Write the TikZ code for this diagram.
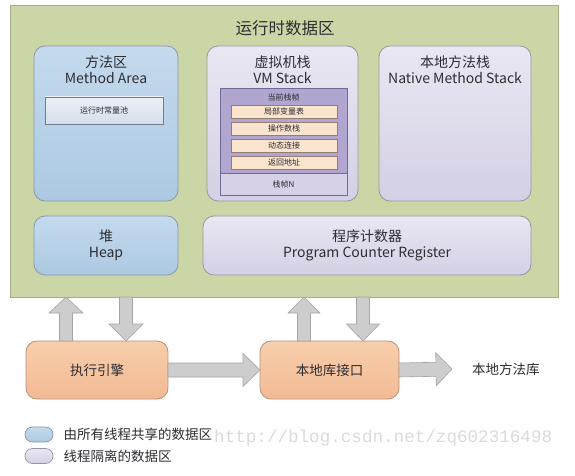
\documentclass[tikz,border=0pt]{standalone}
\usepackage{fontspec}
\setmainfont{Noto Sans CJK SC}
\newfontfamily\wmfam{Liberation Mono}
\usetikzlibrary{calc}
\definecolor{greenfill}{RGB}{203,214,166}
\definecolor{greenline}{RGB}{165,175,135}
\definecolor{bluetop}{RGB}{196,218,237}
\definecolor{bluebot}{RGB}{172,201,226}
\definecolor{blueline}{RGB}{140,152,165}
\definecolor{lavtop}{RGB}{234,231,243}
\definecolor{lavbot}{RGB}{212,208,229}
\definecolor{lavline}{RGB}{150,150,165}
\definecolor{framefill}{RGB}{176,166,207}
\definecolor{frameline}{RGB}{115,105,150}
\definecolor{nfill}{RGB}{214,209,230}
\definecolor{rowfill}{RGB}{250,228,206}
\definecolor{rowline}{RGB}{150,125,115}
\definecolor{pooltop}{RGB}{235,240,246}
\definecolor{poolbot}{RGB}{212,223,235}
\definecolor{poolline}{RGB}{115,125,135}
\definecolor{oratop}{RGB}{248,206,172}
\definecolor{orabot}{RGB}{242,186,148}
\definecolor{oraline}{RGB}{185,145,120}
\definecolor{arrfill}{RGB}{205,205,205}
\definecolor{arrline}{RGB}{165,165,165}
\definecolor{txt}{RGB}{45,45,50}
\tikzset{
  base/.style={anchor=north west, inner sep=0pt, outer sep=0pt},
  greenbox/.style={base, draw=greenline, fill=greenfill, line width=0.8pt},
  bluebox/.style={base, draw=blueline, top color=bluetop, bottom color=bluebot, rounded corners=11pt, line width=0.8pt},
  lavbox/.style={base, draw=lavline, top color=lavtop, bottom color=lavbot, rounded corners=11pt, line width=0.8pt},
  orabox/.style={base, draw=oraline, top color=oratop, bottom color=orabot, rounded corners=11pt, line width=0.8pt},
  poolbox/.style={base, draw=poolline, top color=pooltop, bottom color=poolbot, line width=0.6pt, text=txt, font=\fontsize{8}{9}\selectfont},
  framebox/.style={base, draw=frameline, fill=framefill, line width=0.7pt},
  nbox/.style={anchor=south west, inner sep=0pt, outer sep=0pt, draw=frameline, fill=nfill, line width=0.7pt, text=txt, font=\fontsize{8}{9}\selectfont},
  rowbox/.style={base, draw=rowline, fill=rowfill, line width=0.5pt, minimum width=106pt, minimum height=13pt, text=txt, font=\fontsize{8}{9}\selectfont},
  smalltext/.style={text=txt, font=\fontsize{8}{9}\selectfont, inner sep=0pt},
  boxtitle/.style={text=txt, align=center, inner sep=0pt, font=\fontsize{14}{15.5}\selectfont},
  bigtext/.style={text=txt, inner sep=0pt, font=\fontsize{13.5}{15}\selectfont},
  fatstyle/.style={draw=arrline, fill=arrfill, line width=0.6pt, line join=miter},
  legblue/.style={draw=blueline, top color=bluetop, bottom color=bluebot, minimum width=28pt, minimum height=15pt, rounded corners=7.5pt, inner sep=0pt, line width=0.7pt},
  leglav/.style={draw=lavline, top color=lavtop, bottom color=lavbot, minimum width=28pt, minimum height=15pt, rounded corners=7.5pt, inner sep=0pt, line width=0.7pt},
}
\newcommand\fatarrow[5]{%
  \path ($(#2)!#5!(#1)$) coordinate (fatH);
  \draw[fatstyle] ($(#1)!#3!90:(#2)$) -- ($(fatH)!#3!90:(#2)$) -- ($(fatH)!#4!90:(#2)$) -- (#2)
     -- ($(fatH)!#4!-90:(#2)$) -- ($(fatH)!#3!-90:(#2)$) -- ($(#1)!#3!-90:(#2)$) -- cycle;
}
\begin{document}
\begin{tikzpicture}[x=1pt, y=-1pt]
\useasboundingbox[fill=white] (0,0) rectangle (575,476);
% runtime data area
\node[greenbox, minimum width=548pt, minimum height=292pt] (rt) at (10,5) {};
\node[text=txt, inner sep=0pt, font=\fontsize{16.5}{18}\selectfont] (rtt) at (285,28) {运行时数据区};
% method area
\node[bluebox, minimum width=144pt, minimum height=155pt] (ma) at (34,46) {};
\node[boxtitle] (mat) at ($(ma.north)+(0,23.5)$) {方法区\\Method Area};
\node[poolbox, minimum width=118pt, minimum height=27pt] (pool) at (45,97) {运行时常量池};
% VM stack
\node[lavbox, minimum width=151pt, minimum height=155pt] (vm) at (207,46) {};
\node[boxtitle] (vmt) at ($(vm.north)+(0,23.5)$) {虚拟机栈\\VM Stack};
\node[framebox, minimum width=127pt, minimum height=107pt] (fr) at (220,88) {};
\node[nbox, minimum width=127pt, minimum height=22pt] (fn) at (fr.south west) {栈帧N};
\node[smalltext] (frt) at ($(fr.north)+(0,9)$) {当前栈帧};
\node[rowbox] (r1) at (231,105) {局部变量表};
\node[rowbox] (r2) at (231,122) {操作数栈};
\node[rowbox] (r3) at (231,139) {动态连接};
\node[rowbox] (r4) at (231,156) {返回地址};
% native method stack
\node[lavbox, minimum width=152pt, minimum height=155pt] (nm) at (379,46) {};
\node[boxtitle] (nmt) at ($(nm.north)+(0,23.5)$) {本地方法栈\\Native Method Stack};
% heap
\node[bluebox, minimum width=144pt, minimum height=59pt] (hp) at (34,216) {};
\node[boxtitle] (hpt) at (hp.center) {堆\\Heap};
% program counter
\node[lavbox, minimum width=328pt, minimum height=59pt] (pc) at (203,216) {};
\node[boxtitle] (pct) at (pc.center) {程序计数器\\Program Counter Register};
% execution engine and native interface
\node[orabox, minimum width=142pt, minimum height=58pt] (ee) at (26,341) {};
\node[bigtext] (eet) at (ee.center) {执行引擎};
\node[orabox, minimum width=139pt, minimum height=58pt] (ni) at (260,341) {};
\node[bigtext] (nit) at (ni.center) {本地库接口};
\node[bigtext, anchor=west] (lib) at (472,369) {本地方法库};
% arrows
\coordinate (u1s) at ($(ee.north west)+(40,0)$);
\coordinate (u1e) at (u1s |- rt.south);
\coordinate (d1s) at ($(ee.north west)+(100,0)$);
\coordinate (d1t) at (d1s |- rt.south);
\coordinate (u2s) at ($(ni.north west)+(44,0)$);
\coordinate (u2e) at (u2s |- rt.south);
\coordinate (d2s) at ($(ni.north west)+(103,0)$);
\coordinate (d2t) at (d2s |- rt.south);
\coordinate (libtip) at ($(lib.west)+(-20,0)$);
\fatarrow{u1s}{u1e}{6.5pt}{17pt}{16pt}
\fatarrow{d1t}{d1s}{6.5pt}{17pt}{17pt}
\fatarrow{u2s}{u2e}{6.5pt}{16pt}{16pt}
\fatarrow{d2t}{d2s}{6.5pt}{16.5pt}{17pt}
\fatarrow{ee.east}{ni.west}{7pt}{16.5pt}{17pt}
\fatarrow{ni.east}{libtip}{7pt}{16.5pt}{16pt}
% legend
\node[legblue] (lg1) at (39,434.5) {};
\node[bigtext, anchor=west] (lg1t) at ($(lg1.east)+(10,-0.5)$) {由所有线程共享的数据区};
\node[leglav] (lg2) at (39,456) {};
\node[bigtext, anchor=west] (lg2t) at ($(lg2.east)+(10,0.5)$) {线程隔离的数据区};
% watermark
\node[text=black!14, inner sep=0pt, anchor=base west, font=\wmfam\fontsize{17.6}{19}\selectfont] (wm) at (214,442) {http://blog.csdn.net/zq602316498};
\end{tikzpicture}
\end{document}
